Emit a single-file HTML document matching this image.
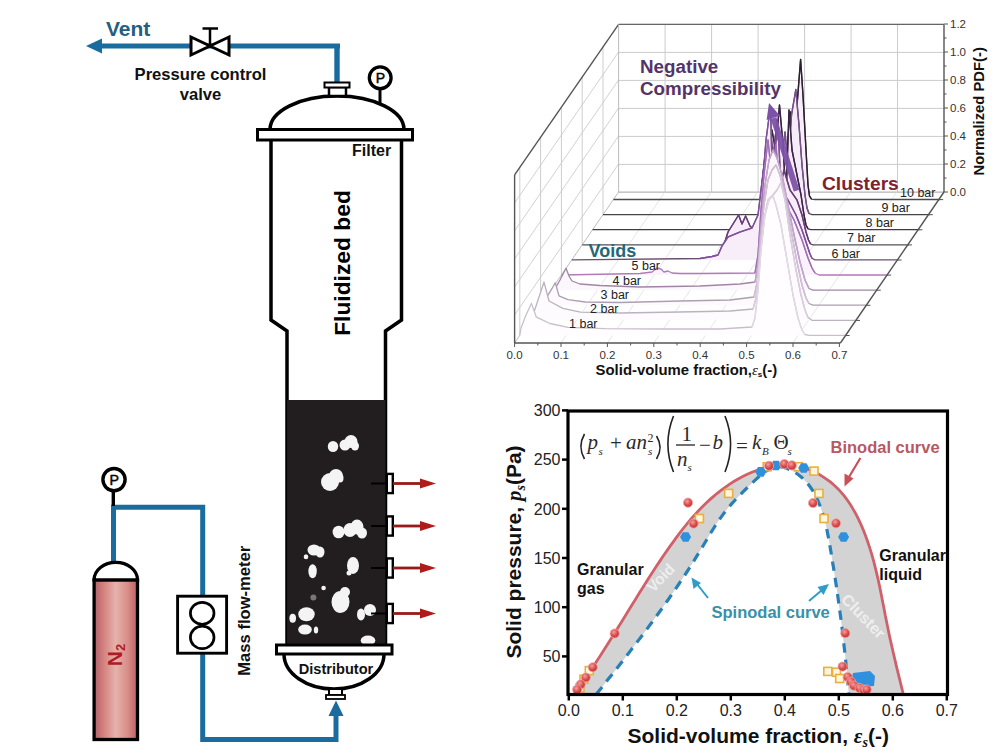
<!DOCTYPE html>
<html><head><meta charset="utf-8"><style>
html,body{margin:0;padding:0;background:#fff;}
svg{display:block;}
</style></head><body>
<svg width="1000" height="755" viewBox="0 0 1000 755">
<rect width="1000" height="755" fill="#fff"/>
<line x1="100" y1="46" x2="340" y2="46" stroke="#1b6c9e" stroke-width="5"/>
<polygon points="86,46 102,38.5 102,53.5" fill="#1b6c9e"/>
<line x1="337" y1="44" x2="337" y2="84" stroke="#1b6c9e" stroke-width="5.4"/>
<polygon points="191,37 191,55 210,46" fill="#fff" stroke="#000" stroke-width="3" stroke-linejoin="miter"/>
<polygon points="229,37 229,55 210,46" fill="#fff" stroke="#000" stroke-width="3" stroke-linejoin="miter"/>
<line x1="210" y1="46" x2="210" y2="28.5" stroke="#000" stroke-width="2.5"/>
<line x1="202.5" y1="28.5" x2="218" y2="28.5" stroke="#000" stroke-width="2.5"/>
<text x="106" y="36" font-family="Liberation Sans, sans-serif" font-weight="bold" font-size="21" fill="#245e80">Vent</text>
<text x="200.5" y="79.5" font-family="Liberation Sans, sans-serif" font-weight="bold" font-size="16.6" fill="#111" text-anchor="middle">Pressure control</text>
<text x="200.5" y="99.5" font-family="Liberation Sans, sans-serif" font-weight="bold" font-size="16.6" fill="#111" text-anchor="middle">valve</text>
<path d="M270,129.5 A67,33.5 0 0 1 404,129.5" fill="#fff" stroke="#000" stroke-width="3.5"/>
<rect x="329" y="87" width="17" height="9" fill="#fff" stroke="#000" stroke-width="2.5"/>
<rect x="324.5" y="82.5" width="25" height="5" fill="#fff" stroke="#000" stroke-width="2"/>
<line x1="380" y1="89" x2="380" y2="104" stroke="#000" stroke-width="3"/>
<circle cx="380.2" cy="77.8" r="10.9" fill="#fff" stroke="#000" stroke-width="3.3"/>
<text x="380.4" y="83" font-family="Liberation Sans, sans-serif" font-size="14" fill="#000" stroke="#000" stroke-width="0.45" text-anchor="middle">P</text>
<path d="M271,140 L271,320 L287,331 L287,645 M401.5,140 L401.5,320 L385.5,331 L385.5,645" fill="none" stroke="#000" stroke-width="3.5"/>
<rect x="287" y="400" width="98.5" height="245" fill="#221e1f"/>
<rect x="257.5" y="129.5" width="155" height="10.5" fill="#fff" stroke="#000" stroke-width="3"/>
<text x="352" y="155.5" font-family="Liberation Sans, sans-serif" font-weight="bold" font-size="16" fill="#111">Filter</text>
<text transform="translate(350,263) rotate(-90)" font-family="Liberation Sans, sans-serif" font-weight="bold" font-size="22.8" fill="#000" text-anchor="middle">Fluidized bed</text>
<ellipse cx="333" cy="446.5" rx="5.2" ry="5.5" fill="#f4f4f4"/>
<ellipse cx="345" cy="445" rx="5.5" ry="5.5" fill="#f4f4f4"/>
<ellipse cx="351" cy="441.5" rx="6.5" ry="6.5" fill="#f4f4f4"/>
<ellipse cx="355" cy="446" rx="4" ry="4.5" fill="#f4f4f4"/>
<ellipse cx="330" cy="482" rx="9" ry="9" fill="#f4f4f4"/>
<ellipse cx="336" cy="476" rx="7" ry="7" fill="#f4f4f4"/>
<ellipse cx="340" cy="478" rx="3.5" ry="4.5" fill="#f4f4f4"/>
<ellipse cx="338.6" cy="532" rx="6" ry="6.3" fill="#f4f4f4"/>
<ellipse cx="350" cy="530" rx="6.5" ry="7" fill="#f4f4f4"/>
<ellipse cx="357" cy="527" rx="6.5" ry="7.5" fill="#f4f4f4"/>
<ellipse cx="362" cy="533" rx="5" ry="5.5" fill="#f4f4f4"/>
<ellipse cx="314" cy="550" rx="6.5" ry="5.5" fill="#f4f4f4"/>
<ellipse cx="320" cy="552" rx="4.5" ry="5.5" fill="#f4f4f4"/>
<ellipse cx="306" cy="556.7" rx="2.3" ry="2.5" fill="#f4f4f4"/>
<ellipse cx="312.6" cy="571.3" rx="4.2" ry="7" fill="#f4f4f4"/>
<ellipse cx="353" cy="565.5" rx="6" ry="8.5" fill="#f4f4f4"/>
<ellipse cx="349" cy="573" rx="2.5" ry="2.5" fill="#f4f4f4"/>
<ellipse cx="323.6" cy="588" rx="2.3" ry="2.3" fill="#f4f4f4"/>
<ellipse cx="340.5" cy="602" rx="9" ry="11" fill="#f4f4f4"/>
<ellipse cx="345" cy="592" rx="5" ry="5" fill="#f4f4f4"/>
<ellipse cx="306.5" cy="614.3" rx="8.2" ry="7" fill="#f4f4f4"/>
<ellipse cx="292.7" cy="618.3" rx="3.3" ry="4.5" fill="#f4f4f4"/>
<ellipse cx="305" cy="629.6" rx="6.8" ry="5" fill="#f4f4f4"/>
<ellipse cx="316" cy="630" rx="2.2" ry="3.5" fill="#f4f4f4"/>
<ellipse cx="370" cy="610" rx="6" ry="6" fill="#f4f4f4"/>
<ellipse cx="361" cy="614.5" rx="4" ry="6" fill="#f4f4f4"/>
<ellipse cx="368" cy="640.5" rx="7.3" ry="5" fill="#f4f4f4"/>
<ellipse cx="313.4" cy="597.5" rx="3" ry="3" fill="#777"/>
<rect x="386.8" y="473.9" width="6" height="19.2" fill="#fff" stroke="#000" stroke-width="2.4"/>
<line x1="393" y1="483.5" x2="424" y2="483.5" stroke="#981a1a" stroke-width="2.8"/>
<polygon points="420,478.5 436,483.5 420,488.5" fill="#b01c1c"/>
<line x1="371" y1="483.5" x2="386" y2="483.5" stroke="#000" stroke-width="2"/>
<rect x="386.8" y="516.4" width="6" height="19.2" fill="#fff" stroke="#000" stroke-width="2.4"/>
<line x1="393" y1="526" x2="424" y2="526" stroke="#981a1a" stroke-width="2.8"/>
<polygon points="420,521 436,526 420,531" fill="#b01c1c"/>
<line x1="371" y1="526" x2="386" y2="526" stroke="#000" stroke-width="2"/>
<rect x="386.8" y="558.4" width="6" height="19.2" fill="#fff" stroke="#000" stroke-width="2.4"/>
<line x1="393" y1="568" x2="424" y2="568" stroke="#981a1a" stroke-width="2.8"/>
<polygon points="420,563 436,568 420,573" fill="#b01c1c"/>
<line x1="371" y1="568" x2="386" y2="568" stroke="#000" stroke-width="2"/>
<rect x="386.8" y="603.9" width="6" height="19.2" fill="#fff" stroke="#000" stroke-width="2.4"/>
<line x1="393" y1="613.5" x2="424" y2="613.5" stroke="#981a1a" stroke-width="2.8"/>
<polygon points="420,608.5 436,613.5 420,618.5" fill="#b01c1c"/>
<line x1="371" y1="613.5" x2="386" y2="613.5" stroke="#000" stroke-width="2"/>
<path d="M284,654 A50,35 0 0 0 384,654" fill="#fff" stroke="#000" stroke-width="3.5"/>
<rect x="276.5" y="645" width="115.5" height="9" fill="#fff" stroke="#000" stroke-width="3"/>
<text x="336" y="673.5" font-family="Liberation Sans, sans-serif" font-weight="bold" font-size="14.6" fill="#111" text-anchor="middle">Distributor</text>
<rect x="329" y="689" width="13" height="6" fill="#fff" stroke="#000" stroke-width="2"/>
<rect x="326" y="695" width="19" height="4" fill="#fff" stroke="#000" stroke-width="1.8"/>
<polyline points="113.5,562 113.5,507.3 202.7,507.3 202.7,739.5 336,739.5 336,712" fill="none" stroke="#1b6c9e" stroke-width="5" stroke-linejoin="miter"/>
<polygon points="336,700.5 328.5,716 343.5,716" fill="#1b6c9e"/>
<line x1="113.3" y1="490" x2="113.3" y2="506" stroke="#000" stroke-width="3.4"/>
<circle cx="114" cy="479.6" r="11.1" fill="#fff" stroke="#000" stroke-width="3.4"/>
<text x="114.2" y="485" font-family="Liberation Sans, sans-serif" font-size="14.2" fill="#000" stroke="#000" stroke-width="0.45" text-anchor="middle">P</text>
<defs><linearGradient id="cyl" x1="0" x2="1" y1="0" y2="0"><stop offset="0" stop-color="#b4606a"/><stop offset="0.22" stop-color="#d4827f"/><stop offset="0.5" stop-color="#e6b2ad"/><stop offset="0.78" stop-color="#d88c87"/><stop offset="1" stop-color="#bc5e60"/></linearGradient></defs>
<rect x="94.1" y="579.8" width="43.4" height="159.7" fill="url(#cyl)" stroke="#000" stroke-width="3.3"/>
<path d="M94.1,579.8 A21.7,17.5 0 0 1 137.5,579.8 Z" fill="#fff" stroke="#000" stroke-width="3.3"/>
<text transform="translate(122,655) rotate(-90)" font-family="Liberation Sans, sans-serif" font-weight="bold" font-size="21" fill="#b01c22" text-anchor="middle">N<tspan font-size="13" dy="3">2</tspan></text>
<rect x="177.6" y="596.2" width="49" height="57" fill="#fff" stroke="#000" stroke-width="2.9"/>
<ellipse cx="202.2" cy="613.3" rx="11.8" ry="11" fill="#fff" stroke="#000" stroke-width="2.7"/>
<ellipse cx="202.2" cy="637.4" rx="11.8" ry="11.3" fill="#fff" stroke="#000" stroke-width="2.7"/>
<text transform="translate(250.3,610.7) rotate(-90)" font-family="Liberation Sans, sans-serif" font-weight="bold" font-size="16.6" fill="#111" text-anchor="middle">Mass flow-meter</text>
<line x1="618.6" y1="24.4" x2="944" y2="24.4" stroke="#cbcbcb" stroke-width="1"/>
<line x1="618.6" y1="52.4" x2="944" y2="52.4" stroke="#cbcbcb" stroke-width="1"/>
<line x1="618.6" y1="80.4" x2="944" y2="80.4" stroke="#cbcbcb" stroke-width="1"/>
<line x1="618.6" y1="108.4" x2="944" y2="108.4" stroke="#cbcbcb" stroke-width="1"/>
<line x1="618.6" y1="136.4" x2="944" y2="136.4" stroke="#cbcbcb" stroke-width="1"/>
<line x1="618.6" y1="164.4" x2="944" y2="164.4" stroke="#cbcbcb" stroke-width="1"/>
<line x1="618.6" y1="192.4" x2="944" y2="192.4" stroke="#cbcbcb" stroke-width="1"/>
<line x1="665.1" y1="24.4" x2="665.1" y2="192" stroke="#cbcbcb" stroke-width="1"/>
<line x1="711.6" y1="24.4" x2="711.6" y2="192" stroke="#cbcbcb" stroke-width="1"/>
<line x1="758.1" y1="24.4" x2="758.1" y2="192" stroke="#cbcbcb" stroke-width="1"/>
<line x1="804.6" y1="24.4" x2="804.6" y2="192" stroke="#cbcbcb" stroke-width="1"/>
<line x1="851.1" y1="24.4" x2="851.1" y2="192" stroke="#cbcbcb" stroke-width="1"/>
<line x1="897.5" y1="24.4" x2="897.5" y2="192" stroke="#cbcbcb" stroke-width="1"/>
<line x1="514.6" y1="314.9" x2="618.6" y2="164.0" stroke="#d2d2d2" stroke-width="1"/>
<line x1="514.6" y1="286.9" x2="618.6" y2="136.0" stroke="#d2d2d2" stroke-width="1"/>
<line x1="514.6" y1="258.9" x2="618.6" y2="108.0" stroke="#d2d2d2" stroke-width="1"/>
<line x1="514.6" y1="230.9" x2="618.6" y2="80.0" stroke="#d2d2d2" stroke-width="1"/>
<line x1="514.6" y1="202.9" x2="618.6" y2="52.0" stroke="#d2d2d2" stroke-width="1"/>
<line x1="519.8" y1="335.4" x2="519.8" y2="167.4" stroke="#cdcdcd" stroke-width="1"/>
<line x1="540.6" y1="305.2" x2="540.6" y2="137.2" stroke="#cdcdcd" stroke-width="1"/>
<line x1="561.4" y1="275.0" x2="561.4" y2="107.0" stroke="#cdcdcd" stroke-width="1"/>
<line x1="582.2" y1="244.8" x2="582.2" y2="76.8" stroke="#cdcdcd" stroke-width="1"/>
<line x1="603.0" y1="214.6" x2="603.0" y2="46.6" stroke="#cdcdcd" stroke-width="1"/>
<line x1="561.0" y1="342.9" x2="665.0" y2="192.0" stroke="#e6e6e6" stroke-width="1"/>
<line x1="607.4" y1="342.9" x2="711.4" y2="192.0" stroke="#e6e6e6" stroke-width="1"/>
<line x1="653.8" y1="342.9" x2="757.8" y2="192.0" stroke="#e6e6e6" stroke-width="1"/>
<line x1="700.2" y1="342.9" x2="804.2" y2="192.0" stroke="#e6e6e6" stroke-width="1"/>
<line x1="746.5" y1="342.9" x2="850.5" y2="192.0" stroke="#e6e6e6" stroke-width="1"/>
<line x1="792.9" y1="342.9" x2="896.9" y2="192.0" stroke="#e6e6e6" stroke-width="1"/>
<line x1="514.6" y1="342.9" x2="618.6" y2="192" stroke="#bdbdbd" stroke-width="1"/>
<line x1="618.6" y1="192" x2="944" y2="192" stroke="#bdbdbd" stroke-width="1"/>
<line x1="618.6" y1="24.4" x2="944" y2="24.4" stroke="#666" stroke-width="1.4"/>
<line x1="514.6" y1="174.8" x2="618.6" y2="24.4" stroke="#555" stroke-width="1.4"/>
<line x1="514.6" y1="174.8" x2="514.6" y2="343" stroke="#555" stroke-width="1.4"/>
<line x1="618.6" y1="24.4" x2="618.6" y2="192" stroke="#bbb" stroke-width="1"/>
<path d="M613.4,199.5 L782.0,199.5 L784.0,190.0 L787.0,150.0 L790.5,112.0 L793.0,150.0 L796.0,118.0 L800.6,59.5 L803.0,95.0 L806.0,150.0 L808.0,185.0 L809.5,196.0 L811.5,199.2 L815.0,199.5 L940.1,199.5 L940.1,199.5 L613.4,199.5 Z" fill="#f8eef9" stroke="none"/>
<path d="M613.4,199.5 L782.0,199.5 L784.0,190.0 L787.0,150.0 L790.5,112.0 L793.0,150.0 L796.0,118.0 L800.6,59.5 L803.0,95.0 L806.0,150.0 L808.0,185.0 L809.5,196.0 L811.5,199.2 L815.0,199.5 L940.1,199.5" fill="none" stroke="#4a4a4c" stroke-width="1.3" stroke-linejoin="round"/>
<path d="M782.0,199.5 L784.0,190.0 L787.0,150.0 L790.5,112.0 L793.0,150.0 L796.0,118.0 L800.6,59.5 L803.0,95.0 L806.0,150.0 L808.0,185.0 L809.5,196.0 L811.5,199.2" fill="none" stroke="#2a1f2e" stroke-width="1.4" stroke-linejoin="round"/>
<path d="M603.0,214.6 L776.0,214.6 L778.0,205.0 L781.0,165.0 L785.0,132.0 L788.0,165.0 L791.5,115.0 L795.8,89.5 L799.0,125.0 L802.0,165.0 L805.0,195.0 L807.0,208.0 L809.0,213.5 L812.0,214.6 L929.7,214.6 L929.7,214.6 L603.0,214.6 Z" fill="#f6ebf8" stroke="none"/>
<path d="M603.0,214.6 L776.0,214.6 L778.0,205.0 L781.0,165.0 L785.0,132.0 L788.0,165.0 L791.5,115.0 L795.8,89.5 L799.0,125.0 L802.0,165.0 L805.0,195.0 L807.0,208.0 L809.0,213.5 L812.0,214.6 L929.7,214.6" fill="none" stroke="#48434a" stroke-width="1.3" stroke-linejoin="round"/>
<path d="M776.0,214.6 L778.0,205.0 L781.0,165.0 L785.0,132.0 L788.0,165.0 L791.5,115.0 L795.8,89.5 L799.0,125.0 L802.0,165.0 L805.0,195.0 L807.0,208.0 L809.0,213.5" fill="none" stroke="#7a4f90" stroke-width="1.4" stroke-linejoin="round"/>
<path d="M592.6,229.7 L763.0,229.7 L765.0,218.0 L768.0,175.0 L772.0,130.0 L775.5,150.0 L779.5,105.0 L783.0,145.0 L786.0,198.0 L789.0,110.0 L792.0,150.0 L797.0,175.0 L801.0,195.0 L804.0,215.0 L806.0,225.0 L808.0,228.8 L811.0,229.7 L919.3,229.7 L919.3,229.7 L592.6,229.7 Z" fill="#f6eaf7" stroke="none"/>
<path d="M592.6,229.7 L763.0,229.7 L765.0,218.0 L768.0,175.0 L772.0,130.0 L775.5,150.0 L779.5,105.0 L783.0,145.0 L786.0,198.0 L789.0,110.0 L792.0,150.0 L797.0,175.0 L801.0,195.0 L804.0,215.0 L806.0,225.0 L808.0,228.8 L811.0,229.7 L919.3,229.7" fill="none" stroke="#4a3550" stroke-width="1.3" stroke-linejoin="round"/>
<path d="M763.0,229.7 L765.0,218.0 L768.0,175.0 L772.0,130.0 L775.5,150.0 L779.5,105.0 L783.0,145.0 L786.0,198.0 L789.0,110.0 L792.0,150.0 L797.0,175.0 L801.0,195.0 L804.0,215.0 L806.0,225.0 L808.0,228.8" fill="none" stroke="#3a2446" stroke-width="1.4" stroke-linejoin="round"/>
<path d="M582.2,244.8 L724.0,244.8 L728.0,232.0 L733.0,224.0 L738.6,215.0 L742.0,224.0 L745.6,216.0 L750.0,226.0 L753.0,229.0 L757.0,232.0 L759.0,222.0 L761.0,195.0 L764.0,165.0 L767.0,140.0 L770.0,118.0 L773.0,160.0 L777.0,120.0 L779.5,190.0 L784.0,170.0 L790.0,190.0 L797.0,200.0 L802.0,215.0 L806.0,232.0 L808.5,240.0 L810.5,243.8 L813.0,244.8 L908.9,244.8 L908.9,244.8 L582.2,244.8 Z" fill="#f7ecf8" stroke="none"/>
<path d="M582.2,244.8 L724.0,244.8 L728.0,232.0 L733.0,224.0 L738.6,215.0 L742.0,224.0 L745.6,216.0 L750.0,226.0 L753.0,229.0 L757.0,232.0 L759.0,222.0 L761.0,195.0 L764.0,165.0 L767.0,140.0 L770.0,118.0 L773.0,160.0 L777.0,120.0 L779.5,190.0 L784.0,170.0 L790.0,190.0 L797.0,200.0 L802.0,215.0 L806.0,232.0 L808.5,240.0 L810.5,243.8 L813.0,244.8 L908.9,244.8" fill="none" stroke="#56505a" stroke-width="1.3" stroke-linejoin="round"/>
<path d="M724.0,244.8 L728.0,232.0 L733.0,224.0 L738.6,215.0 L742.0,224.0 L745.6,216.0 L750.0,226.0 L753.0,229.0 L757.0,232.0 L759.0,222.0 L761.0,195.0 L764.0,165.0 L767.0,140.0 L770.0,118.0 L773.0,160.0 L777.0,120.0 L779.5,190.0 L784.0,170.0 L790.0,190.0 L797.0,200.0 L802.0,215.0 L806.0,232.0 L808.5,240.0 L810.5,243.8" fill="none" stroke="#6a3a7a" stroke-width="1.4" stroke-linejoin="round"/>
<path d="M571.8,259.9 L700.0,258.5 L712.0,256.5 L718.0,255.0 L722.0,246.0 L728.0,237.0 L740.0,232.0 L752.0,228.0 L758.0,215.0 L761.0,190.0 L764.0,165.0 L766.0,140.0 L770.5,106.0 L772.5,185.0 L775.0,150.0 L778.0,125.0 L781.0,190.0 L788.0,200.0 L796.0,215.0 L802.0,230.0 L807.0,245.0 L810.0,254.0 L812.0,258.3 L815.0,259.9 L898.5,259.9 L898.5,259.9 L571.8,259.9 Z" fill="#f8eef9" stroke="none"/>
<path d="M571.8,259.9 L700.0,258.5 L712.0,256.5 L718.0,255.0 L722.0,246.0 L728.0,237.0 L740.0,232.0 L752.0,228.0 L758.0,215.0 L761.0,190.0 L764.0,165.0 L766.0,140.0 L770.5,106.0 L772.5,185.0 L775.0,150.0 L778.0,125.0 L781.0,190.0 L788.0,200.0 L796.0,215.0 L802.0,230.0 L807.0,245.0 L810.0,254.0 L812.0,258.3 L815.0,259.9 L898.5,259.9" fill="none" stroke="#6a5070" stroke-width="1.3" stroke-linejoin="round"/>
<path d="M700.0,258.5 L712.0,256.5 L718.0,255.0 L722.0,246.0 L728.0,237.0 L740.0,232.0 L752.0,228.0 L758.0,215.0 L761.0,190.0 L764.0,165.0 L766.0,140.0 L770.5,106.0 L772.5,185.0 L775.0,150.0 L778.0,125.0 L781.0,190.0 L788.0,200.0 L796.0,215.0 L802.0,230.0 L807.0,245.0 L810.0,254.0 L812.0,258.3" fill="none" stroke="#8050a0" stroke-width="1.4" stroke-linejoin="round"/>
<path d="M561.4,275.0 L640.0,273.5 L652.0,272.0 L657.0,268.0 L661.0,269.0 L664.0,272.0 L668.0,271.0 L672.0,273.0 L680.0,273.5 L700.0,273.5 L755.0,273.0 L758.0,255.0 L761.0,210.0 L764.0,175.0 L768.0,140.0 L772.0,180.0 L776.0,145.0 L780.0,195.0 L786.0,205.0 L794.0,220.0 L802.0,240.0 L808.0,258.0 L812.0,268.0 L815.0,273.0 L819.0,275.0 L888.1,275.0 L888.1,275.0 L561.4,275.0 Z" fill="#faf3fb" stroke="none"/>
<path d="M561.4,275.0 L640.0,273.5 L652.0,272.0 L657.0,268.0 L661.0,269.0 L664.0,272.0 L668.0,271.0 L672.0,273.0 L680.0,273.5 L700.0,273.5 L755.0,273.0 L758.0,255.0 L761.0,210.0 L764.0,175.0 L768.0,140.0 L772.0,180.0 L776.0,145.0 L780.0,195.0 L786.0,205.0 L794.0,220.0 L802.0,240.0 L808.0,258.0 L812.0,268.0 L815.0,273.0 L819.0,275.0 L888.1,275.0" fill="none" stroke="#b27ab8" stroke-width="1.3" stroke-linejoin="round"/>
<path d="M755.0,273.0 L758.0,255.0 L761.0,210.0 L764.0,175.0 L768.0,140.0 L772.0,180.0 L776.0,145.0 L780.0,195.0 L786.0,205.0 L794.0,220.0 L802.0,240.0 L808.0,258.0 L812.0,268.0 L815.0,273.0" fill="none" stroke="#a070b6" stroke-width="1.4" stroke-linejoin="round"/>
<path d="M551.0,290.1 L556.0,287.0 L560.0,280.0 L566.0,268.2 L569.0,276.0 L572.0,281.0 L580.0,284.0 L600.0,285.5 L640.0,287.0 L700.0,286.0 L740.0,284.0 L755.0,282.0 L758.0,265.0 L761.0,225.0 L765.0,185.0 L769.0,160.0 L773.0,150.0 L777.0,158.0 L782.0,175.0 L788.0,205.0 L794.0,235.0 L800.0,262.0 L805.0,280.0 L809.0,288.5 L813.0,290.1 L877.7,290.1 L877.7,290.1 L551.0,290.1 Z" fill="#fcf7fc" stroke="none"/>
<path d="M551.0,290.1 L556.0,287.0 L560.0,280.0 L566.0,268.2 L569.0,276.0 L572.0,281.0 L580.0,284.0 L600.0,285.5 L640.0,287.0 L700.0,286.0 L740.0,284.0 L755.0,282.0 L758.0,265.0 L761.0,225.0 L765.0,185.0 L769.0,160.0 L773.0,150.0 L777.0,158.0 L782.0,175.0 L788.0,205.0 L794.0,235.0 L800.0,262.0 L805.0,280.0 L809.0,288.5 L813.0,290.1 L877.7,290.1" fill="none" stroke="#a086a4" stroke-width="1.3" stroke-linejoin="round"/>
<path d="M755.0,282.0 L758.0,265.0 L761.0,225.0 L765.0,185.0 L769.0,160.0 L773.0,150.0 L777.0,158.0 L782.0,175.0 L788.0,205.0 L794.0,235.0 L800.0,262.0 L805.0,280.0 L809.0,288.5" fill="none" stroke="#c6a4d0" stroke-width="1.4" stroke-linejoin="round"/>
<path d="M540.6,305.2 L545.0,300.0 L550.0,292.0 L555.3,282.8 L559.0,295.8 L567.9,299.6 L585.5,302.0 L620.0,302.5 L680.0,301.0 L730.0,300.0 L754.0,297.0 L757.0,283.0 L760.0,245.0 L764.0,205.0 L768.0,180.0 L772.0,170.0 L776.0,165.0 L780.0,175.0 L785.0,195.0 L791.0,230.0 L797.0,262.0 L802.0,285.0 L806.0,298.0 L809.0,303.5 L813.0,305.2 L867.3,305.2 L867.3,305.2 L540.6,305.2 Z" fill="#fdf9fd" stroke="none"/>
<path d="M540.6,305.2 L545.0,300.0 L550.0,292.0 L555.3,282.8 L559.0,295.8 L567.9,299.6 L585.5,302.0 L620.0,302.5 L680.0,301.0 L730.0,300.0 L754.0,297.0 L757.0,283.0 L760.0,245.0 L764.0,205.0 L768.0,180.0 L772.0,170.0 L776.0,165.0 L780.0,175.0 L785.0,195.0 L791.0,230.0 L797.0,262.0 L802.0,285.0 L806.0,298.0 L809.0,303.5 L813.0,305.2 L867.3,305.2" fill="none" stroke="#aca0b0" stroke-width="1.3" stroke-linejoin="round"/>
<path d="M754.0,297.0 L757.0,283.0 L760.0,245.0 L764.0,205.0 L768.0,180.0 L772.0,170.0 L776.0,165.0 L780.0,175.0 L785.0,195.0 L791.0,230.0 L797.0,262.0 L802.0,285.0 L806.0,298.0 L809.0,303.5" fill="none" stroke="#d4c0d8" stroke-width="1.4" stroke-linejoin="round"/>
<path d="M530.2,320.3 L534.0,312.0 L537.7,301.0 L544.0,282.0 L549.0,301.0 L562.9,308.4 L580.5,312.2 L620.0,313.0 L680.0,312.0 L730.0,311.0 L753.0,309.0 L756.0,298.0 L759.0,265.0 L763.0,225.0 L768.0,200.0 L773.0,195.0 L777.0,190.0 L781.0,182.7 L785.0,200.0 L790.0,235.0 L796.0,270.0 L801.0,295.0 L805.0,310.0 L808.0,317.5 L812.0,320.3 L856.9,320.3 L856.9,320.3 L530.2,320.3 Z" fill="#fefbfe" stroke="none"/>
<path d="M530.2,320.3 L534.0,312.0 L537.7,301.0 L544.0,282.0 L549.0,301.0 L562.9,308.4 L580.5,312.2 L620.0,313.0 L680.0,312.0 L730.0,311.0 L753.0,309.0 L756.0,298.0 L759.0,265.0 L763.0,225.0 L768.0,200.0 L773.0,195.0 L777.0,190.0 L781.0,182.7 L785.0,200.0 L790.0,235.0 L796.0,270.0 L801.0,295.0 L805.0,310.0 L808.0,317.5 L812.0,320.3 L856.9,320.3" fill="none" stroke="#bcb2c0" stroke-width="1.3" stroke-linejoin="round"/>
<path d="M753.0,309.0 L756.0,298.0 L759.0,265.0 L763.0,225.0 L768.0,200.0 L773.0,195.0 L777.0,190.0 L781.0,182.7 L785.0,200.0 L790.0,235.0 L796.0,270.0 L801.0,295.0 L805.0,310.0 L808.0,317.5" fill="none" stroke="#dccfe0" stroke-width="1.4" stroke-linejoin="round"/>
<path d="M519.8,335.4 L521.0,328.0 L526.0,315.0 L531.4,303.4 L536.4,317.2 L550.0,323.5 L568.0,327.3 L605.6,328.6 L660.0,329.0 L720.0,329.0 L752.0,327.0 L755.0,318.0 L758.0,290.0 L761.0,250.0 L765.0,215.0 L769.0,200.0 L772.8,195.7 L776.0,205.0 L781.0,225.0 L787.0,260.0 L793.0,295.0 L798.0,318.0 L802.0,330.0 L805.0,334.5 L809.0,335.4 L846.5,335.4 L846.5,335.4 L519.8,335.4 Z" fill="#fffdff" stroke="none"/>
<path d="M519.8,335.4 L521.0,328.0 L526.0,315.0 L531.4,303.4 L536.4,317.2 L550.0,323.5 L568.0,327.3 L605.6,328.6 L660.0,329.0 L720.0,329.0 L752.0,327.0 L755.0,318.0 L758.0,290.0 L761.0,250.0 L765.0,215.0 L769.0,200.0 L772.8,195.7 L776.0,205.0 L781.0,225.0 L787.0,260.0 L793.0,295.0 L798.0,318.0 L802.0,330.0 L805.0,334.5 L809.0,335.4 L846.5,335.4" fill="none" stroke="#c8bfca" stroke-width="1.3" stroke-linejoin="round"/>
<path d="M752.0,327.0 L755.0,318.0 L758.0,290.0 L761.0,250.0 L765.0,215.0 L769.0,200.0 L772.8,195.7 L776.0,205.0 L781.0,225.0 L787.0,260.0 L793.0,295.0 L798.0,318.0 L802.0,330.0 L805.0,334.5" fill="none" stroke="#e4dae6" stroke-width="1.4" stroke-linejoin="round"/>
<line x1="514.6" y1="343" x2="840.4" y2="343" stroke="#555" stroke-width="1.4"/>
<line x1="840.4" y1="343" x2="944" y2="192" stroke="#555" stroke-width="1.4"/>
<line x1="944" y1="24.4" x2="944" y2="192" stroke="#555" stroke-width="1.4"/>
<line x1="514.6" y1="343" x2="514.6" y2="347" stroke="#555" stroke-width="1"/>
<line x1="537.8" y1="343" x2="537.8" y2="345.5" stroke="#555" stroke-width="1"/>
<line x1="561.0" y1="343" x2="561.0" y2="347" stroke="#555" stroke-width="1"/>
<line x1="584.2" y1="343" x2="584.2" y2="345.5" stroke="#555" stroke-width="1"/>
<line x1="607.4" y1="343" x2="607.4" y2="347" stroke="#555" stroke-width="1"/>
<line x1="630.6" y1="343" x2="630.6" y2="345.5" stroke="#555" stroke-width="1"/>
<line x1="653.8" y1="343" x2="653.8" y2="347" stroke="#555" stroke-width="1"/>
<line x1="677.0" y1="343" x2="677.0" y2="345.5" stroke="#555" stroke-width="1"/>
<line x1="700.2" y1="343" x2="700.2" y2="347" stroke="#555" stroke-width="1"/>
<line x1="723.4" y1="343" x2="723.4" y2="345.5" stroke="#555" stroke-width="1"/>
<line x1="746.6" y1="343" x2="746.6" y2="347" stroke="#555" stroke-width="1"/>
<line x1="769.8" y1="343" x2="769.8" y2="345.5" stroke="#555" stroke-width="1"/>
<line x1="793.0" y1="343" x2="793.0" y2="347" stroke="#555" stroke-width="1"/>
<line x1="816.2" y1="343" x2="816.2" y2="345.5" stroke="#555" stroke-width="1"/>
<line x1="839.4" y1="343" x2="839.4" y2="347" stroke="#555" stroke-width="1"/>
<text x="514.6" y="359" font-family="Liberation Sans, sans-serif" font-size="11.5" fill="#333" text-anchor="middle">0.0</text>
<text x="561.0" y="359" font-family="Liberation Sans, sans-serif" font-size="11.5" fill="#333" text-anchor="middle">0.1</text>
<text x="607.4" y="359" font-family="Liberation Sans, sans-serif" font-size="11.5" fill="#333" text-anchor="middle">0.2</text>
<text x="653.8" y="359" font-family="Liberation Sans, sans-serif" font-size="11.5" fill="#333" text-anchor="middle">0.3</text>
<text x="700.2" y="359" font-family="Liberation Sans, sans-serif" font-size="11.5" fill="#333" text-anchor="middle">0.4</text>
<text x="746.6" y="359" font-family="Liberation Sans, sans-serif" font-size="11.5" fill="#333" text-anchor="middle">0.5</text>
<text x="793.0" y="359" font-family="Liberation Sans, sans-serif" font-size="11.5" fill="#333" text-anchor="middle">0.6</text>
<text x="839.4" y="359" font-family="Liberation Sans, sans-serif" font-size="11.5" fill="#333" text-anchor="middle">0.7</text>
<line x1="944" y1="192.0" x2="948" y2="192.0" stroke="#555" stroke-width="1"/>
<line x1="944" y1="178.0" x2="946.5" y2="178.0" stroke="#555" stroke-width="1"/>
<line x1="944" y1="164.0" x2="948" y2="164.0" stroke="#555" stroke-width="1"/>
<line x1="944" y1="150.0" x2="946.5" y2="150.0" stroke="#555" stroke-width="1"/>
<line x1="944" y1="136.0" x2="948" y2="136.0" stroke="#555" stroke-width="1"/>
<line x1="944" y1="122.0" x2="946.5" y2="122.0" stroke="#555" stroke-width="1"/>
<line x1="944" y1="108.0" x2="948" y2="108.0" stroke="#555" stroke-width="1"/>
<line x1="944" y1="94.0" x2="946.5" y2="94.0" stroke="#555" stroke-width="1"/>
<line x1="944" y1="80.0" x2="948" y2="80.0" stroke="#555" stroke-width="1"/>
<line x1="944" y1="66.0" x2="946.5" y2="66.0" stroke="#555" stroke-width="1"/>
<line x1="944" y1="52.0" x2="948" y2="52.0" stroke="#555" stroke-width="1"/>
<line x1="944" y1="38.0" x2="946.5" y2="38.0" stroke="#555" stroke-width="1"/>
<line x1="944" y1="24.0" x2="948" y2="24.0" stroke="#555" stroke-width="1"/>
<text x="950" y="196.0" font-family="Liberation Sans, sans-serif" font-size="11.5" fill="#333">0.0</text>
<text x="950" y="168.0" font-family="Liberation Sans, sans-serif" font-size="11.5" fill="#333">0.2</text>
<text x="950" y="140.0" font-family="Liberation Sans, sans-serif" font-size="11.5" fill="#333">0.4</text>
<text x="950" y="112.0" font-family="Liberation Sans, sans-serif" font-size="11.5" fill="#333">0.6</text>
<text x="950" y="84.0" font-family="Liberation Sans, sans-serif" font-size="11.5" fill="#333">0.8</text>
<text x="950" y="56.0" font-family="Liberation Sans, sans-serif" font-size="11.5" fill="#333">1.0</text>
<text x="950" y="28.0" font-family="Liberation Sans, sans-serif" font-size="11.5" fill="#333">1.2</text>
<line x1="845.6" y1="335.5" x2="849.6" y2="335.5" stroke="#555" stroke-width="1"/>
<line x1="856.0" y1="320.4" x2="860.0" y2="320.4" stroke="#555" stroke-width="1"/>
<line x1="866.4" y1="305.3" x2="870.4" y2="305.3" stroke="#555" stroke-width="1"/>
<line x1="876.8" y1="290.2" x2="880.8" y2="290.2" stroke="#555" stroke-width="1"/>
<line x1="887.2" y1="275.1" x2="891.2" y2="275.1" stroke="#555" stroke-width="1"/>
<line x1="897.6" y1="260.0" x2="901.6" y2="260.0" stroke="#555" stroke-width="1"/>
<line x1="908.0" y1="244.9" x2="912.0" y2="244.9" stroke="#555" stroke-width="1"/>
<line x1="918.4" y1="229.8" x2="922.4" y2="229.8" stroke="#555" stroke-width="1"/>
<line x1="928.8" y1="214.7" x2="932.8" y2="214.7" stroke="#555" stroke-width="1"/>
<line x1="939.2" y1="199.6" x2="943.2" y2="199.6" stroke="#555" stroke-width="1"/>
<text transform="translate(983.5,111.3) rotate(-90)" font-family="Liberation Sans, sans-serif" font-weight="bold" font-size="14.8" fill="#111" text-anchor="middle">Normalized PDF(-)</text>
<text x="686.4" y="374.5" font-family="Liberation Sans, sans-serif" font-weight="bold" font-size="14.9" fill="#111" text-anchor="middle">Solid-volume fraction,<tspan font-family="Liberation Serif, serif" font-style="italic" font-weight="normal">ε</tspan><tspan font-size="8" dy="2">s</tspan><tspan dy="-2">(-)</tspan></text>
<text x="569" y="328" font-family="Liberation Sans, sans-serif" font-size="12.5" fill="#222">1 bar</text>
<text x="590" y="313" font-family="Liberation Sans, sans-serif" font-size="12.5" fill="#222">2 bar</text>
<text x="600.5" y="299" font-family="Liberation Sans, sans-serif" font-size="12.5" fill="#222">3 bar</text>
<text x="612.5" y="285" font-family="Liberation Sans, sans-serif" font-size="12.5" fill="#222">4 bar</text>
<text x="631.5" y="270" font-family="Liberation Sans, sans-serif" font-size="12.5" fill="#222">5 bar</text>
<text x="831.5" y="257.5" font-family="Liberation Sans, sans-serif" font-size="12.5" fill="#222">6 bar</text>
<text x="847" y="242" font-family="Liberation Sans, sans-serif" font-size="12.5" fill="#222">7 bar</text>
<text x="865.5" y="227" font-family="Liberation Sans, sans-serif" font-size="12.5" fill="#222">8 bar</text>
<text x="881.4" y="212" font-family="Liberation Sans, sans-serif" font-size="12.5" fill="#222">9 bar</text>
<text x="900" y="197" font-family="Liberation Sans, sans-serif" font-size="12.5" fill="#222">10 bar</text>
<text x="588.5" y="257" font-family="Liberation Sans, sans-serif" font-weight="bold" font-size="18" fill="#236878">Voids</text>
<text x="822" y="190" font-family="Liberation Sans, sans-serif" font-weight="bold" font-size="19.2" fill="#7e2230">Clusters</text>
<text x="640" y="72.5" font-family="Liberation Sans, sans-serif" font-weight="bold" font-size="18.8" fill="#543468">Negative</text>
<text x="640" y="94.5" font-family="Liberation Sans, sans-serif" font-weight="bold" font-size="18.8" fill="#543468">Compressibility</text>
<line x1="796.6" y1="190.6" x2="773.5" y2="118" stroke="#7c52a8" stroke-width="6" stroke-opacity="0.95"/>
<polygon points="769,103  766.6,120 780,115.8" fill="#7c52a8"/>
<defs><radialGradient id="rball" cx="0.4" cy="0.35" r="0.65"><stop offset="0" stop-color="#f4a0a0"/><stop offset="0.6" stop-color="#dc4a4a"/><stop offset="1" stop-color="#c03838"/></radialGradient></defs>
<clipPath id="plotclip"><rect x="568" y="411" width="379" height="283"/></clipPath>
<g clip-path="url(#plotclip)"><path d="M573.7,694.2 L576.8,690.1 L579.8,685.9 L582.7,681.8 L585.7,677.6 L588.6,673.4 L591.4,669.2 L594.2,665.0 L597.0,660.8 L599.8,656.6 L602.5,652.3 L605.2,648.1 L607.9,643.8 L610.6,639.6 L613.3,635.3 L615.9,631.1 L618.5,626.8 L621.2,622.5 L623.8,618.3 L626.4,614.0 L629.0,609.8 L631.6,605.5 L634.3,601.2 L636.9,597.0 L639.5,592.7 L642.2,588.5 L644.9,584.2 L647.5,580.0 L650.2,575.7 L653.0,571.5 L655.7,567.3 L658.5,563.1 L661.3,558.9 L664.1,554.7 L667.0,550.6 L669.9,546.4 L672.9,542.3 L675.9,538.2 L678.9,534.1 L682.0,530.0 L685.2,526.0 L688.4,522.1 L691.7,518.2 L695.1,514.4 L698.5,510.7 L702.1,507.0 L705.7,503.4 L709.5,499.9 L713.3,496.6 L717.2,493.3 L721.3,490.1 L725.5,487.1 L729.7,484.1 L734.1,481.3 L738.6,478.7 L743.2,476.3 L747.8,474.0 L752.5,472.0 L757.3,470.2 L762.1,468.6 L766.9,467.3 L771.8,466.3 L776.6,465.6 L781.5,465.3 L786.3,465.2 L791.1,465.5 L795.9,466.2 L800.6,467.1 L805.2,468.4 L809.7,470.0 L814.2,471.9 L818.5,474.1 L822.7,476.6 L826.8,479.3 L830.7,482.2 L834.5,485.5 L838.1,488.9 L841.4,492.6 L844.6,496.4 L847.6,500.5 L850.5,504.7 L853.1,509.1 L855.7,513.6 L858.0,518.2 L860.2,522.8 L862.3,527.6 L864.3,532.4 L866.1,537.2 L867.8,542.0 L869.4,546.9 L871.0,551.8 L872.4,556.7 L873.8,561.6 L875.0,566.5 L876.2,571.4 L877.4,576.4 L878.5,581.3 L879.6,586.3 L880.6,591.2 L881.6,596.2 L882.5,601.1 L883.5,606.1 L884.5,611.0 L885.4,616.0 L886.4,620.9 L887.4,625.8 L888.4,630.7 L889.4,635.6 L890.5,640.5 L891.6,645.4 L892.7,650.3 L893.8,655.1 L895.0,660.0 L896.1,664.9 L897.3,669.8 L898.5,674.6 L899.7,679.5 L900.9,684.5 L902.1,689.4 L903.3,694.3 L848.9,694.9 L848.4,690.0 L848.0,685.2 L847.6,680.4 L847.1,675.6 L846.7,670.9 L846.2,666.3 L845.8,661.7 L845.3,657.1 L844.8,652.5 L844.3,648.0 L843.8,643.5 L843.3,639.0 L842.8,634.6 L842.3,630.1 L841.7,625.7 L841.2,621.3 L840.6,616.8 L840.0,612.4 L839.4,608.0 L838.8,603.6 L838.2,599.1 L837.6,594.7 L836.9,590.2 L836.3,585.7 L835.6,581.2 L834.9,576.7 L834.2,572.1 L833.5,567.5 L832.7,562.9 L832.0,558.2 L831.2,553.5 L830.4,548.8 L829.6,544.0 L828.8,539.2 L827.8,534.4 L826.9,529.7 L825.8,525.0 L824.6,520.3 L823.4,515.7 L822.0,511.2 L820.4,506.8 L818.7,502.5 L816.9,498.4 L814.9,494.4 L812.7,490.6 L810.3,487.0 L807.7,483.6 L804.8,480.4 L801.8,477.4 L798.4,474.7 L794.8,472.2 L791.0,470.1 L786.8,468.3 L782.6,467.1 L778.3,466.7 L774.1,467.3 L770.1,468.8 L766.1,471.0 L762.3,473.8 L758.5,477.0 L754.9,480.3 L751.3,483.8 L747.8,487.2 L744.4,490.5 L741.1,493.9 L737.8,497.2 L734.7,500.5 L731.6,503.9 L728.7,507.3 L725.8,510.8 L723.1,514.4 L720.4,518.1 L717.8,521.8 L715.3,525.6 L712.9,529.5 L710.5,533.3 L708.1,537.3 L705.8,541.2 L703.4,545.2 L701.1,549.1 L698.7,553.0 L696.3,556.9 L693.9,560.8 L691.4,564.7 L689.0,568.6 L686.5,572.5 L684.0,576.3 L681.4,580.2 L678.9,584.0 L676.3,587.8 L673.7,591.6 L671.1,595.4 L668.5,599.2 L665.8,603.0 L663.2,606.7 L660.5,610.5 L657.8,614.2 L655.1,617.9 L652.4,621.7 L649.6,625.4 L646.9,629.1 L644.2,632.8 L641.4,636.5 L638.6,640.1 L635.8,643.8 L633.0,647.5 L630.2,651.1 L627.4,654.8 L624.6,658.4 L621.8,662.1 L618.9,665.7 L616.1,669.3 L613.2,672.9 L610.4,676.5 L607.5,680.1 L604.7,683.8 L601.8,687.4 L598.9,691.0 L596.1,694.5 Z" fill="#d3d3d3" stroke="none"/>
<path d="M573.7,694.2 L576.8,690.1 L579.8,685.9 L582.7,681.8 L585.7,677.6 L588.6,673.4 L591.4,669.2 L594.2,665.0 L597.0,660.8 L599.8,656.6 L602.5,652.3 L605.2,648.1 L607.9,643.8 L610.6,639.6 L613.3,635.3 L615.9,631.1 L618.5,626.8 L621.2,622.5 L623.8,618.3 L626.4,614.0 L629.0,609.8 L631.6,605.5 L634.3,601.2 L636.9,597.0 L639.5,592.7 L642.2,588.5 L644.9,584.2 L647.5,580.0 L650.2,575.7 L653.0,571.5 L655.7,567.3 L658.5,563.1 L661.3,558.9 L664.1,554.7 L667.0,550.6 L669.9,546.4 L672.9,542.3 L675.9,538.2 L678.9,534.1 L682.0,530.0 L685.2,526.0 L688.4,522.1 L691.7,518.2 L695.1,514.4 L698.5,510.7 L702.1,507.0 L705.7,503.4 L709.5,499.9 L713.3,496.6 L717.2,493.3 L721.3,490.1 L725.5,487.1 L729.7,484.1 L734.1,481.3 L738.6,478.7 L743.2,476.3 L747.8,474.0 L752.5,472.0 L757.3,470.2 L762.1,468.6 L766.9,467.3 L771.8,466.3 L776.6,465.6 L781.5,465.3 L786.3,465.2 L791.1,465.5 L795.9,466.2 L800.6,467.1 L805.2,468.4 L809.7,470.0 L814.2,471.9 L818.5,474.1 L822.7,476.6 L826.8,479.3 L830.7,482.2 L834.5,485.5 L838.1,488.9 L841.4,492.6 L844.6,496.4 L847.6,500.5 L850.5,504.7 L853.1,509.1 L855.7,513.6 L858.0,518.2 L860.2,522.8 L862.3,527.6 L864.3,532.4 L866.1,537.2 L867.8,542.0 L869.4,546.9 L871.0,551.8 L872.4,556.7 L873.8,561.6 L875.0,566.5 L876.2,571.4 L877.4,576.4 L878.5,581.3 L879.6,586.3 L880.6,591.2 L881.6,596.2 L882.5,601.1 L883.5,606.1 L884.5,611.0 L885.4,616.0 L886.4,620.9 L887.4,625.8 L888.4,630.7 L889.4,635.6 L890.5,640.5 L891.6,645.4 L892.7,650.3 L893.8,655.1 L895.0,660.0 L896.1,664.9 L897.3,669.8 L898.5,674.6 L899.7,679.5 L900.9,684.5 L902.1,689.4 L903.3,694.3" fill="none" stroke="#d0606a" stroke-width="2.8"/>
<path d="M596.1,694.5 L598.9,691.0 L601.8,687.4 L604.7,683.8 L607.5,680.1 L610.4,676.5 L613.2,672.9 L616.1,669.3 L618.9,665.7 L621.8,662.1 L624.6,658.4 L627.4,654.8 L630.2,651.1 L633.0,647.5 L635.8,643.8 L638.6,640.1 L641.4,636.5 L644.2,632.8 L646.9,629.1 L649.6,625.4 L652.4,621.7 L655.1,617.9 L657.8,614.2 L660.5,610.5 L663.2,606.7 L665.8,603.0 L668.5,599.2 L671.1,595.4 L673.7,591.6 L676.3,587.8 L678.9,584.0 L681.4,580.2 L684.0,576.3 L686.5,572.5 L689.0,568.6 L691.4,564.7 L693.9,560.8 L696.3,556.9 L698.7,553.0 L701.1,549.1 L703.4,545.2 L705.8,541.2 L708.1,537.3 L710.5,533.3 L712.9,529.5 L715.3,525.6 L717.8,521.8 L720.4,518.1 L723.1,514.4 L725.8,510.8 L728.7,507.3 L731.6,503.9 L734.7,500.5 L737.8,497.2 L741.1,493.9 L744.4,490.5 L747.8,487.2 L751.3,483.8 L754.9,480.3 L758.5,477.0 L762.3,473.8 L766.1,471.0 L770.1,468.8 L774.1,467.3 L778.3,466.7 L782.6,467.1 L786.8,468.3 L791.0,470.1 L794.8,472.2 L798.4,474.7 L801.8,477.4 L804.8,480.4 L807.7,483.6 L810.3,487.0 L812.7,490.6 L814.9,494.4 L816.9,498.4 L818.7,502.5 L820.4,506.8 L822.0,511.2 L823.4,515.7 L824.6,520.3 L825.8,525.0 L826.9,529.7 L827.8,534.4 L828.8,539.2 L829.6,544.0 L830.4,548.8 L831.2,553.5 L832.0,558.2 L832.7,562.9 L833.5,567.5 L834.2,572.1 L834.9,576.7 L835.6,581.2 L836.3,585.7 L836.9,590.2 L837.6,594.7 L838.2,599.1 L838.8,603.6 L839.4,608.0 L840.0,612.4 L840.6,616.8 L841.2,621.3 L841.7,625.7 L842.3,630.1 L842.8,634.6 L843.3,639.0 L843.8,643.5 L844.3,648.0 L844.8,652.5 L845.3,657.1 L845.8,661.7 L846.2,666.3 L846.7,670.9 L847.1,675.6 L847.6,680.4 L848.0,685.2 L848.4,690.0 L848.9,694.9" fill="none" stroke="#2880b8" stroke-width="3.2" stroke-dasharray="9.5,7"/></g>
<text transform="translate(664.5,581.5) rotate(-46)" font-family="Liberation Sans, sans-serif" font-weight="bold" font-size="15.5" fill="#eeeeee" text-anchor="middle">Void</text>
<text transform="translate(859.5,620) rotate(46)" font-family="Liberation Sans, sans-serif" font-weight="bold" font-size="16" fill="#eeeeee" text-anchor="middle">Cluster</text>
<rect x="585.3" y="666.6" width="8" height="8" fill="#fff6dc" stroke="#e8b040" stroke-width="1.6"/>
<rect x="580.0" y="675.2" width="8" height="8" fill="#fff6dc" stroke="#e8b040" stroke-width="1.6"/>
<rect x="695.4" y="514.5" width="8" height="8" fill="#fff6dc" stroke="#e8b040" stroke-width="1.6"/>
<rect x="724.7" y="489.4" width="8" height="8" fill="#fff6dc" stroke="#e8b040" stroke-width="1.6"/>
<rect x="763.2" y="462.8" width="8" height="8" fill="#fff6dc" stroke="#e8b040" stroke-width="1.6"/>
<rect x="794.5" y="462.7" width="8" height="8" fill="#fff6dc" stroke="#e8b040" stroke-width="1.6"/>
<rect x="810.0" y="467.1" width="8" height="8" fill="#fff6dc" stroke="#e8b040" stroke-width="1.6"/>
<rect x="815.0" y="489.4" width="8" height="8" fill="#fff6dc" stroke="#e8b040" stroke-width="1.6"/>
<rect x="820.0" y="514.5" width="8" height="8" fill="#fff6dc" stroke="#e8b040" stroke-width="1.6"/>
<rect x="823.8" y="667.4" width="8" height="8" fill="#fff6dc" stroke="#e8b040" stroke-width="1.6"/>
<rect x="832.5" y="668.2" width="8" height="8" fill="#fff6dc" stroke="#e8b040" stroke-width="1.6"/>
<rect x="835.7" y="674.5" width="8" height="8" fill="#fff6dc" stroke="#e8b040" stroke-width="1.6"/>
<rect x="576.0" y="684.0" width="8" height="8" fill="#fff6dc" stroke="#e8b040" stroke-width="1.6"/>
<path d="M853,673 L870,671 L875,676 L874,686 L858,687 L851,680 Z" fill="#2f90de"/>
<polygon points="691.1,537.0 688.4,541.8 682.9,541.8 680.1,537.0 682.9,532.2 688.4,532.2" fill="#2f90de"/>
<polygon points="781.5,465.5 778.8,470.3 773.2,470.3 770.5,465.5 773.2,460.7 778.8,460.7" fill="#2f90de"/>
<polygon points="766.3,471.9 763.5,476.7 758.0,476.7 755.3,471.9 758.0,467.1 763.5,467.1" fill="#2f90de"/>
<polygon points="809.2,468.0 806.5,472.8 801.0,472.8 798.2,468.0 801.0,463.2 806.5,463.2" fill="#2f90de"/>
<polygon points="849.1,537.0 846.4,541.8 840.9,541.8 838.1,537.0 840.9,532.2 846.4,532.2" fill="#2f90de"/>
<circle cx="688" cy="502.7" r="4.6" fill="url(#rball)" stroke="#f0a8a8" stroke-width="0.8"/>
<circle cx="693.6" cy="523.6" r="4.6" fill="url(#rball)" stroke="#f0a8a8" stroke-width="0.8"/>
<circle cx="614.7" cy="633.5" r="4.6" fill="url(#rball)" stroke="#f0a8a8" stroke-width="0.8"/>
<circle cx="592.8" cy="667.3" r="4.6" fill="url(#rball)" stroke="#f0a8a8" stroke-width="0.8"/>
<circle cx="585.8" cy="677.5" r="4.6" fill="url(#rball)" stroke="#f0a8a8" stroke-width="0.8"/>
<circle cx="580.7" cy="684.4" r="4.6" fill="url(#rball)" stroke="#f0a8a8" stroke-width="0.8"/>
<circle cx="577.2" cy="689.6" r="4.6" fill="url(#rball)" stroke="#f0a8a8" stroke-width="0.8"/>
<circle cx="769" cy="465.8" r="4.6" fill="url(#rball)" stroke="#f0a8a8" stroke-width="0.8"/>
<circle cx="784.4" cy="464.1" r="4.6" fill="url(#rball)" stroke="#f0a8a8" stroke-width="0.8"/>
<circle cx="791.8" cy="465.4" r="4.6" fill="url(#rball)" stroke="#f0a8a8" stroke-width="0.8"/>
<circle cx="813" cy="503" r="4.6" fill="url(#rball)" stroke="#f0a8a8" stroke-width="0.8"/>
<circle cx="836" cy="523.3" r="4.6" fill="url(#rball)" stroke="#f0a8a8" stroke-width="0.8"/>
<circle cx="845.3" cy="633.2" r="4.6" fill="url(#rball)" stroke="#f0a8a8" stroke-width="0.8"/>
<circle cx="842.6" cy="666.6" r="4.6" fill="url(#rball)" stroke="#f0a8a8" stroke-width="0.8"/>
<circle cx="847.7" cy="677" r="4.6" fill="url(#rball)" stroke="#f0a8a8" stroke-width="0.8"/>
<circle cx="850.9" cy="681.7" r="4.6" fill="url(#rball)" stroke="#f0a8a8" stroke-width="0.8"/>
<circle cx="854" cy="685.7" r="4.6" fill="url(#rball)" stroke="#f0a8a8" stroke-width="0.8"/>
<circle cx="859.6" cy="688" r="4.6" fill="url(#rball)" stroke="#f0a8a8" stroke-width="0.8"/>
<circle cx="863.6" cy="689.6" r="4.6" fill="url(#rball)" stroke="#f0a8a8" stroke-width="0.8"/>
<circle cx="866.7" cy="689.6" r="4.6" fill="url(#rball)" stroke="#f0a8a8" stroke-width="0.8"/>
<rect x="568" y="411" width="379.5" height="283.5" fill="none" stroke="#000" stroke-width="3.2"/>
<line x1="562" y1="656.4" x2="568" y2="656.4" stroke="#000" stroke-width="2.5"/>
<text x="560.5" y="662.2" font-family="Liberation Sans, sans-serif" font-size="16" fill="#222" text-anchor="end">50</text>
<line x1="562" y1="607.2" x2="568" y2="607.2" stroke="#000" stroke-width="2.5"/>
<text x="560.5" y="613.0" font-family="Liberation Sans, sans-serif" font-size="16" fill="#222" text-anchor="end">100</text>
<line x1="562" y1="558.0" x2="568" y2="558.0" stroke="#000" stroke-width="2.5"/>
<text x="560.5" y="563.8" font-family="Liberation Sans, sans-serif" font-size="16" fill="#222" text-anchor="end">150</text>
<line x1="562" y1="508.8" x2="568" y2="508.8" stroke="#000" stroke-width="2.5"/>
<text x="560.5" y="514.6" font-family="Liberation Sans, sans-serif" font-size="16" fill="#222" text-anchor="end">200</text>
<line x1="562" y1="459.6" x2="568" y2="459.6" stroke="#000" stroke-width="2.5"/>
<text x="560.5" y="465.4" font-family="Liberation Sans, sans-serif" font-size="16" fill="#222" text-anchor="end">250</text>
<line x1="562" y1="410.4" x2="568" y2="410.4" stroke="#000" stroke-width="2.5"/>
<text x="560.5" y="416.2" font-family="Liberation Sans, sans-serif" font-size="16" fill="#222" text-anchor="end">300</text>
<line x1="568.8" y1="694.5" x2="568.8" y2="700.5" stroke="#000" stroke-width="2.5"/>
<text x="568.8" y="715.5" font-family="Liberation Sans, sans-serif" font-size="16" fill="#222" text-anchor="middle">0.0</text>
<line x1="622.8" y1="694.5" x2="622.8" y2="700.5" stroke="#000" stroke-width="2.5"/>
<text x="622.8" y="715.5" font-family="Liberation Sans, sans-serif" font-size="16" fill="#222" text-anchor="middle">0.1</text>
<line x1="676.8" y1="694.5" x2="676.8" y2="700.5" stroke="#000" stroke-width="2.5"/>
<text x="676.8" y="715.5" font-family="Liberation Sans, sans-serif" font-size="16" fill="#222" text-anchor="middle">0.2</text>
<line x1="730.8" y1="694.5" x2="730.8" y2="700.5" stroke="#000" stroke-width="2.5"/>
<text x="730.8" y="715.5" font-family="Liberation Sans, sans-serif" font-size="16" fill="#222" text-anchor="middle">0.3</text>
<line x1="784.8" y1="694.5" x2="784.8" y2="700.5" stroke="#000" stroke-width="2.5"/>
<text x="784.8" y="715.5" font-family="Liberation Sans, sans-serif" font-size="16" fill="#222" text-anchor="middle">0.4</text>
<line x1="838.8" y1="694.5" x2="838.8" y2="700.5" stroke="#000" stroke-width="2.5"/>
<text x="838.8" y="715.5" font-family="Liberation Sans, sans-serif" font-size="16" fill="#222" text-anchor="middle">0.5</text>
<line x1="892.8" y1="694.5" x2="892.8" y2="700.5" stroke="#000" stroke-width="2.5"/>
<text x="892.8" y="715.5" font-family="Liberation Sans, sans-serif" font-size="16" fill="#222" text-anchor="middle">0.6</text>
<line x1="946.8" y1="694.5" x2="946.8" y2="700.5" stroke="#000" stroke-width="2.5"/>
<text x="946.8" y="715.5" font-family="Liberation Sans, sans-serif" font-size="16" fill="#222" text-anchor="middle">0.7</text>
<text x="627.5" y="742.5" font-family="Liberation Sans, sans-serif" font-weight="bold" font-size="21" fill="#111">Solid-volume fraction, <tspan font-family="Liberation Serif, serif" font-style="italic">ε</tspan><tspan font-family="Liberation Serif, serif" font-style="italic" font-size="14" dy="4">s</tspan><tspan dy="-4">(-)</tspan></text>
<text transform="translate(521,552) rotate(-90)" font-family="Liberation Sans, sans-serif" font-weight="bold" font-size="21" fill="#111" text-anchor="middle">Solid pressure, <tspan font-family="Liberation Serif, serif" font-style="italic">p</tspan><tspan font-family="Liberation Serif, serif" font-style="italic" font-size="14" dy="4">s</tspan><tspan dy="-4">(Pa)</tspan></text>
<text x="577" y="574.5" font-family="Liberation Sans, sans-serif" font-weight="bold" font-size="16" fill="#111">Granular</text>
<text x="577" y="594" font-family="Liberation Sans, sans-serif" font-weight="bold" font-size="16" fill="#111">gas</text>
<text x="879.3" y="560.5" font-family="Liberation Sans, sans-serif" font-weight="bold" font-size="16" fill="#111">Granular</text>
<text x="879.3" y="579.5" font-family="Liberation Sans, sans-serif" font-weight="bold" font-size="16" fill="#111">liquid</text>
<text x="830.5" y="452.5" font-family="Liberation Sans, sans-serif" font-weight="bold" font-size="16.5" fill="#b85862">Binodal curve</text>
<line x1="860.4" y1="458" x2="849" y2="477" stroke="#c85058" stroke-width="2.2"/>
<polygon points="844.5,486.5 844.5,473.5 853.5,478.5" fill="#c85058"/>
<text x="711.5" y="618" font-family="Liberation Sans, sans-serif" font-weight="bold" font-size="16.5" fill="#3890aa">Spinodal curve</text>
<line x1="708" y1="598" x2="697" y2="584" stroke="#2e9dc8" stroke-width="2"/>
<polygon points="691.5,577.5 693.5,589 701,583" fill="#2e9dc8"/>
<line x1="809" y1="601" x2="822" y2="590" stroke="#2e9dc8" stroke-width="2"/>
<polygon points="829,584 817.5,587 823.5,595" fill="#2e9dc8"/>
<g font-family="Liberation Serif, serif" font-size="21" fill="#2a2a2a"><path d="M584.5,434 Q577.3,446.5 584.5,459" fill="none" stroke="#222" stroke-width="1.6"/><text x="587.5" y="449" font-style="italic">p</text><text x="598.5" y="455" font-style="italic" font-size="11">s</text><text x="610" y="450">+</text><text x="626" y="449" font-style="italic">an</text><text x="648" y="455" font-style="italic" font-size="11">s</text><text x="647.5" y="442" font-size="12">2</text><path d="M656.5,436 Q663.7,447.5 656.5,459" fill="none" stroke="#222" stroke-width="1.6"/><path d="M673.5,416 Q662.3,444.0 673.5,472" fill="none" stroke="#222" stroke-width="1.6"/><text x="681.5" y="441">1</text><line x1="676" y1="445" x2="695" y2="445" stroke="#222" stroke-width="1.3"/><text x="677" y="466" font-style="italic">n</text><text x="687.5" y="471" font-style="italic" font-size="11">s</text><text x="699" y="451.5">−</text><text x="712.5" y="449" font-style="italic">b</text><path d="M725,416 Q736.2,444.0 725,472" fill="none" stroke="#222" stroke-width="1.6"/><text x="736" y="452.5">=</text><text x="752" y="449" font-style="italic">k</text><text x="762" y="455" font-style="italic" font-size="11">B</text><text x="773.5" y="449">Θ</text><text x="787.5" y="455" font-style="italic" font-size="11">s</text></g>
</svg>
</body></html>
